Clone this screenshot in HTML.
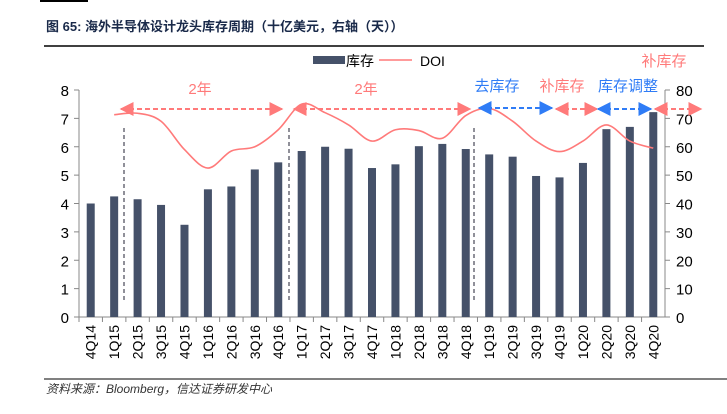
<!DOCTYPE html>
<html><head><meta charset="utf-8">
<style>
body{margin:0;background:#fff;}
svg{display:block;font-family:"Liberation Sans","Noto Sans CJK SC",sans-serif;}
</style></head>
<body>
<svg id="chart" width="727" height="414" viewBox="0 0 727 414">
<defs>
<marker id="ap" viewBox="0 0 10 10" refX="9" refY="5" markerWidth="7" markerHeight="7" orient="auto-start-reverse"><path d="M0,0L10,5L0,10z" fill="#ff7a7a"/></marker>
<marker id="ab" viewBox="0 0 10 10" refX="9" refY="5" markerWidth="7" markerHeight="7" orient="auto-start-reverse"><path d="M0,0L10,5L0,10z" fill="#2f7cf6"/></marker>
</defs>
<rect x="40" y="0" width="48" height="2" fill="#000"/>
<text x="46" y="31" font-size="13" font-weight="bold" fill="#1a2a4a">图 65: 海外半导体设计龙头库存周期（十亿美元，右轴（天））</text>
<line x1="44" y1="46" x2="704" y2="46" stroke="#000" stroke-width="1.5"/>
<g>
<rect x="313" y="56" width="32" height="8" fill="#455169"/>
<text x="346" y="66" font-size="14">库存</text>
<line x1="379" y1="60" x2="412" y2="60" stroke="#ff7a7a" stroke-width="1.5"/>
<text x="420" y="66" font-size="14">DOI</text>
</g>
<g id="axes"></g>
<g id="bars"></g>
<path id="doi" fill="none" stroke="#ff7a7a" stroke-width="1.6"/>
<g>
<line x1="124" y1="128" x2="124" y2="300" stroke="#223" stroke-dasharray="4,3"/>
<line x1="289" y1="128" x2="289" y2="300" stroke="#223" stroke-dasharray="4,3"/>
<line x1="474" y1="128" x2="474" y2="300" stroke="#223" stroke-dasharray="4,3"/>
<line x1="121" y1="109" x2="282" y2="109" stroke="#ff7a7a" stroke-width="2" stroke-dasharray="5,3" marker-start="url(#ap)" marker-end="url(#ap)"/>
<line x1="294" y1="109" x2="470" y2="109" stroke="#ff7a7a" stroke-width="2" stroke-dasharray="5,3" marker-start="url(#ap)" marker-end="url(#ap)"/>
<line x1="479" y1="108" x2="552" y2="108" stroke="#2f7cf6" stroke-width="2" stroke-dasharray="5,3" marker-start="url(#ab)" marker-end="url(#ab)"/>
<line x1="556" y1="109" x2="597" y2="109" stroke="#ff7a7a" stroke-width="2" stroke-dasharray="5,3" marker-start="url(#ap)" marker-end="url(#ap)"/>
<line x1="598" y1="109" x2="651" y2="109" stroke="#2f7cf6" stroke-width="2" stroke-dasharray="5,3" marker-start="url(#ab)" marker-end="url(#ab)"/>
<line x1="655" y1="109" x2="701" y2="109" stroke="#ff7a7a" stroke-width="2" stroke-dasharray="5,3" marker-start="url(#ap)" marker-end="url(#ap)"/>
<text x="200" y="94" font-size="15" fill="#ff7a7a" text-anchor="middle">2年</text>
<text x="366" y="94" font-size="15" fill="#ff7a7a" text-anchor="middle">2年</text>
<text x="497" y="91" font-size="15" fill="#2f7cf6" text-anchor="middle">去库存</text>
<text x="562" y="91" font-size="15" fill="#ff7a7a" text-anchor="middle">补库存</text>
<text x="628" y="91" font-size="15" fill="#2f7cf6" text-anchor="middle">库存调整</text>
<text x="664" y="66" font-size="15" fill="#ff7a7a" text-anchor="middle">补库存</text>
</g>
<line x1="44" y1="379" x2="727" y2="379" stroke="#000" stroke-width="1"/>
<text x="46" y="393" font-size="12" font-style="italic" fill="#333">资料来源：Bloomberg，信达证券研发中心</text>
</svg>
<script>
const categories=["4Q14","1Q15","2Q15","3Q15","4Q15","1Q16","2Q16","3Q16","4Q16","1Q17","2Q17","3Q17","4Q17","1Q18","2Q18","3Q18","4Q18","1Q19","2Q19","3Q19","4Q19","1Q20","2Q20","3Q20","4Q20"];
const inventory=[4.0,4.25,4.15,3.95,3.25,4.5,4.6,5.2,5.45,5.85,6.0,5.93,5.25,5.38,6.02,6.1,5.92,5.73,5.65,4.97,4.92,5.43,6.62,6.7,7.22];
const doi=[null,71.3,71.8,69,59,52.5,58.5,60,66,75,72,67.7,62,66,65.7,63,71,73.5,69,62,58.3,62,67.7,62,59.5];
const leftTicks=[0,1,2,3,4,5,6,7,8];
const rightTicks=[0,10,20,30,40,50,60,70,80];
const NS="http://www.w3.org/2000/svg";
const X0=79,X1=665,Y0=317,Y1=90;
const band=(X1-X0)/categories.length;
function xc(i){return X0+band*(i+0.5);}
function yl(v){return Y0-(Y0-Y1)*v/8;}
function yr(v){return Y0-(Y0-Y1)*v/80;}
function mk(tag,attrs,parent){const e=document.createElementNS(NS,tag);for(const k in attrs)e.setAttribute(k,attrs[k]);parent.appendChild(e);return e;}
const axes=document.getElementById('axes');
let e;
e=mk('line',{x1:X0,y1:Y1,x2:X0,y2:Y0,stroke:'#888'},axes);


e=mk('line',{x1:X1,y1:Y1,x2:X1,y2:Y0,stroke:'#888'},axes);


e=mk('line',{x1:X0,y1:Y0,x2:X1,y2:Y0,stroke:'#888'},axes);


leftTicks.forEach(v=>{
  mk('line',{x1:X0-5,y1:yl(v),x2:X0,y2:yl(v),stroke:'#888'},axes);
  e=mk('text',{x:X0-10,y:yl(v)+6,'font-size':15,'text-anchor':'end'},axes);
  e.textContent=v;
  
  
});
rightTicks.forEach(v=>{
  mk('line',{x1:X1,y1:yr(v),x2:X1+5,y2:yr(v),stroke:'#888'},axes);
  e=mk('text',{x:X1+11,y:yr(v)+6,'font-size':15},axes);
  e.textContent=v;
  
  
});
categories.forEach((c,i)=>{
  mk('line',{x1:X0+band*i,y1:Y0,x2:X0+band*i,y2:Y0+5,stroke:'#888'},axes);
  e=mk('text',{x:0,y:0,'font-size':14,'text-anchor':'end',transform:`translate(${xc(i)+5},${Y0+8}) rotate(-90)`},axes);
  e.textContent=c;
  
  
});
const bars=document.getElementById('bars');
inventory.forEach((v,i)=>{
  e=mk('rect',{x:xc(i)-4,y:yl(v),width:8,height:Y0-yl(v),fill:'#455169'},bars);
  
  
});
const pts=[];doi.forEach((v,i)=>{if(v!==null)pts.push([xc(i),yr(v)]);});
let d=`M${pts[0][0]},${pts[0][1]}`;
for(let i=0;i<pts.length-1;i++){
  const p0=pts[Math.max(0,i-1)],p1=pts[i],p2=pts[i+1],p3=pts[Math.min(pts.length-1,i+2)];
  const c1=[p1[0]+(p2[0]-p0[0])/6,p1[1]+(p2[1]-p0[1])/6];
  const c2=[p2[0]-(p3[0]-p1[0])/6,p2[1]-(p3[1]-p1[1])/6];
  d+=` C${c1[0]},${c1[1]} ${c2[0]},${c2[1]} ${p2[0]},${p2[1]}`;
}
document.getElementById('doi').setAttribute('d',d);
</script>
</body></html>
